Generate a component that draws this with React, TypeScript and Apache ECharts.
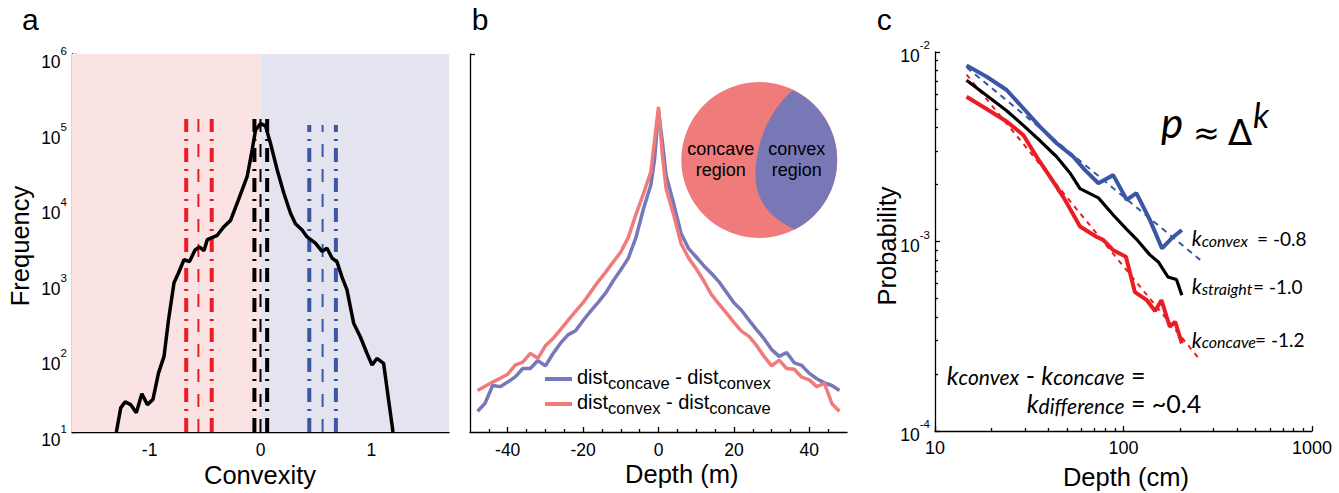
import React, { useEffect, useRef } from "react";
import * as echarts from "echarts";

// ---------- Panel a: convexity histogram ----------
const convexityX = [-1.3, -1.26, -1.22, -1.17, -1.12, -1.07, -1.02, -0.97, -0.92, -0.87, -0.83, -0.78, -0.74, -0.69, -0.64, -0.59, -0.55, -0.51, -0.48, -0.39, -0.33, -0.27, -0.2, -0.12, -0.075, -0.045, 0, 0.045, 0.09, 0.15, 0.21, 0.27, 0.315, 0.375, 0.42, 0.495, 0.555, 0.6, 0.645, 0.69, 0.735, 0.78, 0.81, 0.84, 0.9, 0.96, 1.006, 1.05, 1.11, 1.156, 1.195];
const frequency = [10, 21, 25, 23, 18, 32, 23, 27, 60, 100, 300, 940, 1270, 1900, 1800, 2560, 2800, 2500, 3500, 4000, 5200, 6300, 11700, 24000, 54000, 98000, 120000, 112000, 66000, 29500, 14500, 7900, 5700, 4700, 3800, 3150, 2450, 2700, 2000, 1780, 1120, 760, 455, 275, 182, 110, 77, 94, 81, 26, 10];
const concaveRefLines = [-0.67, -0.56, -0.44];
const straightRefLines = [-0.055, 0, 0.06];
const convexRefLines = [0.44, 0.56, 0.68];
const refLineTops = { concave: 138000, straight: 138000, convex: 115000 };
const convexityTicks = [-1, 0, 1];

// ---------- Panel b: depth distributions ----------
const depthB = [-48, -46, -44, -42, -40, -38, -36, -34, -32, -30, -28, -26, -24, -22, -20, -18, -16, -14, -12, -10, -8, -6, -4, -2, -1, 0, 1, 2, 4, 6, 8, 10, 12, 14, 16, 18, 20, 22, 24, 26, 28, 30, 32, 34, 36, 38, 40, 42, 44, 46, 48];
const concaveMinusConvex = [5.5, 7.6, 12.3, 12.0, 13.2, 14.6, 16.8, 16.8, 18.9, 17.5, 20.7, 23.5, 25.7, 26.8, 29.5, 32.0, 34.3, 36.8, 40.0, 42.9, 46.0, 51.4, 59.0, 65.5, 72.5, 85.0, 77.0, 68.0, 60.5, 52.5, 48.5, 46.3, 44.0, 42.0, 39.8, 37.0, 34.2, 32.2, 29.6, 27.1, 24.7, 21.8, 20.0, 21.0, 18.3, 17.6, 15.5, 14.1, 13.0, 12.3, 11.0];
const convexMinusConcave = [11.0, 12.1, 13.2, 14.2, 15.3, 17.7, 18.5, 20.8, 19.5, 22.8, 24.7, 27.1, 29.5, 31.9, 34.2, 37.0, 39.8, 42.3, 45.0, 47.6, 51.5, 57.5, 63.0, 69.0, 77.5, 86.0, 73.5, 64.5, 57.5, 49.8, 46.0, 43.2, 40.0, 36.4, 33.9, 31.5, 29.0, 26.7, 25.3, 22.9, 20.0, 17.5, 19.0, 16.8, 16.6, 14.5, 13.8, 12.0, 12.9, 7.5, 5.5];
const depthBTicks = [-40, -20, 0, 20, 40];
const depthBMinorTicks = [-45, -35, -30, -25, -15, -10, -5, 5, 10, 15, 25, 30, 35, 45];

// ---------- Panel c: probability vs depth ----------
const depthConvex = [14.7, 18.8, 24, 29.4, 36.1, 44.2, 54.2, 62.5, 73.6, 88.2, 104, 117, 138, 160, 180, 204];
const probConvex = [0.0085, 0.0074, 0.0063, 0.00505, 0.00403, 0.0033, 0.0028, 0.00238, 0.00203, 0.00224, 0.00166, 0.0018, 0.0013, 0.00092, 0.00104, 0.00115];
const depthStraight = [14.7, 18.8, 24, 29.4, 36.1, 44.2, 52, 58.8, 73.6, 88.2, 104, 117, 138, 153, 172, 191, 204];
const probStraight = [0.0071, 0.0059, 0.0049, 0.0041, 0.0034, 0.0028, 0.0023, 0.0019, 0.0017, 0.00138, 0.00116, 0.00103, 0.00085, 0.00078, 0.00065, 0.00063, 0.00052];
const depthConcave = [14.7, 18.8, 24, 29.4, 34.6, 40.7, 47.9, 58.8, 71.8, 78, 88.2, 103, 115, 133, 147, 159, 176, 188, 204];
const probConcave = [0.0058, 0.005, 0.0043, 0.00365, 0.0028, 0.0022, 0.00172, 0.0012, 0.00106, 0.00102, 0.0009, 0.00083, 0.00054, 0.00049, 0.00043, 0.00049, 0.000355, 0.000377, 0.00029];
const fitDepth = [14.7, 255];
const fitConvex = [0.0083, 0.0008];
const fitConcave = [0.0076, 0.000237];
const minorMultipliers = [2, 3, 4, 5, 6, 7, 8, 9];

const SANS = '"Liberation Sans", Arial, Helvetica, sans-serif';
const ITAL = 'Lato, "Open Sans", sans-serif';
const DEJAVU = '"DejaVu Sans", sans-serif';
const BLACK = "#000";
const AX = { color: BLACK, width: 1.3 };
const RED_A = "#ec1c24";
const BLUE_A = "#3a56a5";
const BLUE_B = "#7777bb";
const RED_B = "#f07b7b";
const TICK_FONT = 17.5;

const NAME_BLUE = "dist_concave - dist_convex";
const NAME_RED = "dist_convex - dist_concave";

const CONVEX_PATH = "M793 90 A78 78 0 0 1 795 229.5 C775 220 755.5 205 755.5 175 C756 140 770 110 793 90 Z";

function minorTicks(decadeStarts: number[]) {
  const out: number[] = [];
  decadeStarts.forEach((d) => minorMultipliers.forEach((m) => out.push(d * m)));
  return out;
}

function zip(xs: number[], ys: number[]) {
  return xs.map((x, i) => [x, ys[i]]);
}

const supRich = {
  b: { fontSize: TICK_FONT, fontFamily: SANS, color: BLACK, lineHeight: 26, verticalAlign: "bottom" },
  s: { fontSize: 11.5, fontFamily: SANS, color: BLACK, lineHeight: 11, verticalAlign: "top" },
};
const supFormatter = (v: number) => `{b|10}{s|${Math.round(Math.log10(v))}}`;

function buildOption() {
  const refSeries: any[] = [];
  const groups: [number[], string, number][] = [
    [concaveRefLines, RED_A, refLineTops.concave],
    [straightRefLines, BLACK, refLineTops.straight],
    [convexRefLines, BLUE_A, refLineTops.convex],
  ];
  groups.forEach(([xs, color, top]) => {
    xs.forEach((x, i) => {
      const middle = i === 1;
      refSeries.push({
        type: "line",
        xAxisIndex: 0,
        yAxisIndex: 0,
        symbol: "none",
        silent: true,
        z: 3,
        data: [[x, 10], [x, top]],
        lineStyle: middle
          ? { color, width: 2, type: [13, 12] }
          : { color, width: 4, type: [14, 7, 2, 7] },
      });
    });
  });

  const kRich = {
    k: { fontSize: 21, fontStyle: "italic", fontFamily: ITAL, lineHeight: 21, verticalAlign: "bottom" },
    s: { fontSize: 16, fontStyle: "italic", fontFamily: ITAL, lineHeight: 16, verticalAlign: "bottom" },
  };
  const bigRich = {
    k: { fontSize: 25, fontStyle: "italic", fontFamily: ITAL, lineHeight: 25, verticalAlign: "bottom" },
    s: { fontSize: 21, fontStyle: "italic", fontFamily: ITAL, lineHeight: 21, verticalAlign: "bottom" },
    e: { fontSize: 25, fontFamily: ITAL, lineHeight: 25, verticalAlign: "bottom" },
  };

  const txt = (x: number, y: number, text: string, extra: any = {}, el: any = {}) => ({
    type: "text",
    x,
    y,
    silent: true,
    ...el,
    style: {
      text,
      fill: BLACK,
      fontSize: 22,
      fontFamily: SANS,
      align: "left",
      verticalAlign: "middle",
      ...extra,
    },
  });

  const graphics: any[] = [
    // panel letters
    txt(22, 19.5, "a", { fontSize: 30 }),
    txt(471.7, 19.5, "b", { fontSize: 30 }),
    txt(876.7, 19.5, "c", { fontSize: 30 }),
    // panel a region labels
    txt(165, 91, "concave\nreference regions", { align: "center", lineHeight: 26 }),
    txt(354, 91, "convex\nreference regions", { align: "center", lineHeight: 26 }),
    // axis titles
    txt(20, 246, "Frequency", { align: "center", fontSize: 25.5 }, { rotation: Math.PI / 2 }),
    txt(260, 475, "Convexity", { align: "center", fontSize: 25.5 }),
    txt(681.7, 473.5, "Depth (m)", { align: "center", fontSize: 25.5 }),
    txt(887, 246, "Probability", { align: "center", fontSize: 25.5 }, { rotation: Math.PI / 2 }),
    txt(1126, 476.5, "Depth (cm)", { align: "center", fontSize: 25.5 }),
    // inset circle
    { type: "circle", silent: true, shape: { cx: 759.3, cy: 160, r: 78 }, style: { fill: "#f07b7b" } },
    { type: "convexRegion", silent: true, x: 0, y: 0, style: { fill: "#7878b6" } },
    txt(720.7, 159, "concave\nregion", { align: "center", lineHeight: 21, fontSize: 18 }),
    txt(796.7, 159, "convex\nregion", { align: "center", lineHeight: 21, fontSize: 18 }),
    // panel c formula
    txt(1161, 143, "p", { fontSize: 42, fontStyle: "italic", fontFamily: ITAL, verticalAlign: "bottom" }),
    txt(1206.5, 133, "\u2248", { fontSize: 32, fontFamily: DEJAVU, align: "center" }),
    txt(1240, 132, "\u0394", { fontSize: 36, fontFamily: DEJAVU, align: "center" }),
    txt(1253, 114, "k", { fontSize: 34, fontStyle: "italic", fontFamily: ITAL }),
    // panel c slope labels
    txt(1191.7, 248, "{k|k}{s|convex}", { rich: kRich, verticalAlign: "bottom" }),
    txt(1257, 238, "= -0.8", { fontSize: 19, fontFamily: ITAL }),
    txt(1191.7, 296, "{k|k}{s|straight}", { rich: kRich, verticalAlign: "bottom" }),
    txt(1253, 286, "= -1.0", { fontSize: 19, fontFamily: ITAL }),
    txt(1191.7, 349.5, "{k|k}{s|concave}", { rich: kRich, verticalAlign: "bottom" }),
    txt(1255, 339.5, "= -1.2", { fontSize: 19, fontFamily: ITAL }),
    txt(946.7, 387, "{k|k}{s|convex}{e| - }{k|k}{s|concave}{e| =}", { rich: bigRich, verticalAlign: "bottom" }),
    txt(1026.7, 415.5, "{k|k}{s|difference}{e| = ~0.4}", { rich: bigRich, verticalAlign: "bottom" }),
  ];

  const legendText: Record<string, string> = {
    [NAME_BLUE]: "{d|dist}{s|concave}{d| - dist}{s|convex}",
    [NAME_RED]: "{d|dist}{s|convex}{d| - dist}{s|concave}",
  };

  const tickLabel = { color: BLACK, fontSize: TICK_FONT, fontFamily: SANS };

  return {
    animation: false,
    grid: [
      { left: 72, top: 54, width: 377, height: 378 },
      { left: 470, top: 54, width: 377, height: 378 },
      { left: 935, top: 52, width: 377, height: 379 },
    ],
    legend: {
      data: [NAME_BLUE, NAME_RED],
      orient: "vertical",
      left: 540,
      top: 362,
      itemWidth: 27,
      itemHeight: 4,
      itemGap: 1,
      icon: "rect",
      formatter: (n: string) => legendText[n],
      textStyle: {
        fontSize: 20,
        fontFamily: SANS,
        color: BLACK,
        rich: {
          d: { fontSize: 20, fontFamily: SANS, color: BLACK, lineHeight: 24, verticalAlign: "top" },
          s: { fontSize: 16.5, fontFamily: SANS, color: BLACK, lineHeight: 20, verticalAlign: "bottom" },
        },
      },
    },
    xAxis: [
      {
        gridIndex: 0, type: "value", min: -1.7, max: 1.7,
        axisLine: { onZero: false, lineStyle: AX },
        axisTick: { inside: true, length: 5, customValues: convexityTicks, lineStyle: AX },
        axisLabel: { customValues: convexityTicks, ...tickLabel, margin: 9 },
        splitLine: { show: false },
      },
      {
        gridIndex: 1, type: "value", min: -50, max: 50,
        axisLine: { onZero: false, lineStyle: AX },
        axisTick: { inside: true, length: 5, customValues: depthBTicks, lineStyle: AX },
        axisLabel: { customValues: depthBTicks, ...tickLabel, margin: 9 },
        splitLine: { show: false },
      },
      {
        gridIndex: 1, type: "value", min: -50, max: 50, position: "bottom",
        axisLine: { show: false, onZero: false },
        axisTick: { inside: true, length: 3, customValues: depthBMinorTicks, lineStyle: AX },
        axisLabel: { show: false },
        splitLine: { show: false },
      },
      {
        gridIndex: 2, type: "log", logBase: 10, min: 10, max: 1000,
        axisLine: { onZero: false, lineStyle: AX },
        axisTick: { inside: true, length: 5, lineStyle: AX },
        axisLabel: { ...tickLabel, fontSize: 18, margin: 8, formatter: (v: number) => String(Math.round(v)) },
        splitLine: { show: false },
        minorTick: { show: false },
      },
      {
        gridIndex: 2, type: "log", logBase: 10, min: 10, max: 1000, position: "bottom",
        axisLine: { show: false, onZero: false },
        axisTick: { inside: true, length: 3, customValues: minorTicks([10, 100]), lineStyle: AX },
        axisLabel: { show: false },
        splitLine: { show: false },
      },
    ],
    yAxis: [
      {
        gridIndex: 0, type: "log", logBase: 10, min: 10, max: 1e6, position: "left",
        axisLine: { show: true, onZero: false, lineStyle: AX },
        axisTick: { show: true, inside: true, length: 5, lineStyle: AX },
        axisLabel: { ...tickLabel, formatter: supFormatter, margin: 5, padding: [8, 0, 0, 0], rich: supRich },
        splitLine: { show: false },
      },
      {
        gridIndex: 0, type: "log", logBase: 10, min: 10, max: 1e6, position: "left",
        axisLine: { show: false, onZero: false },
        axisTick: { show: true, inside: true, length: 3, customValues: minorTicks([10, 100, 1000, 10000, 100000]), lineStyle: AX },
        axisLabel: { show: false },
        splitLine: { show: false },
      },
      {
        gridIndex: 1, type: "value", min: 0, max: 100, position: "left",
        axisLine: { show: true, onZero: false, lineStyle: AX },
        axisTick: { show: true, inside: true, length: 5, customValues: [100], lineStyle: AX },
        axisLabel: { show: false },
        splitLine: { show: false },
      },
      {
        gridIndex: 2, type: "log", logBase: 10, min: 1e-4, max: 1e-2, position: "left",
        axisLine: { show: true, onZero: false, lineStyle: AX },
        axisTick: { show: true, inside: true, length: 5, lineStyle: AX },
        axisLabel: { ...tickLabel, formatter: supFormatter, margin: 5, rich: supRich, verticalAlignMaxLabel: "top" },
        splitLine: { show: false },
      },
      {
        gridIndex: 2, type: "log", logBase: 10, min: 1e-4, max: 1e-2, position: "left",
        axisLine: { show: false, onZero: false },
        axisTick: { show: true, inside: true, length: 3, customValues: minorTicks([1e-4, 1e-3]), lineStyle: AX },
        axisLabel: { show: false },
        splitLine: { show: false },
      },
    ],
    series: [
      {
        type: "line", name: "frequency", xAxisIndex: 0, yAxisIndex: 0, symbol: "none", z: 4,
        data: zip(convexityX, frequency),
        lineStyle: { color: BLACK, width: 3.5 },
        markArea: {
          silent: true,
          data: [
            [{ xAxis: -1.7, itemStyle: { color: "#fbe3e3" } }, { xAxis: 0 }],
            [{ xAxis: 0, itemStyle: { color: "#e4e4f1" } }, { xAxis: 1.7 }],
          ],
        },
      },
      ...refSeries,
      {
        type: "line", name: NAME_BLUE, xAxisIndex: 1, yAxisIndex: 2, symbol: "none",
        data: zip(depthB, concaveMinusConvex), color: BLUE_B,
        lineStyle: { color: BLUE_B, width: 3.5 },
      },
      {
        type: "line", name: NAME_RED, xAxisIndex: 1, yAxisIndex: 2, symbol: "none",
        data: zip(depthB, convexMinusConcave), color: RED_B,
        lineStyle: { color: RED_B, width: 3.5 },
      },
      {
        type: "line", name: "convex fit", xAxisIndex: 3, yAxisIndex: 3, symbol: "none", z: 3,
        data: zip(fitDepth, fitConvex), lineStyle: { color: BLUE_A, width: 2, type: [6, 5] },
      },
      {
        type: "line", name: "concave fit", xAxisIndex: 3, yAxisIndex: 3, symbol: "none", z: 3,
        data: zip(fitDepth, fitConcave), lineStyle: { color: RED_A, width: 2, type: [5, 5] },
      },
      {
        type: "line", name: "convex", xAxisIndex: 3, yAxisIndex: 3, symbol: "none",
        data: zip(depthConvex, probConvex), lineStyle: { color: BLUE_A, width: 4 },
      },
      {
        type: "line", name: "straight", xAxisIndex: 3, yAxisIndex: 3, symbol: "none",
        data: zip(depthStraight, probStraight), lineStyle: { color: BLACK, width: 3.2 },
      },
      {
        type: "line", name: "concave", xAxisIndex: 3, yAxisIndex: 3, symbol: "none",
        data: zip(depthConcave, probConcave), lineStyle: { color: RED_A, width: 4 },
      },
    ],
    graphic: { elements: graphics },
  };
}

export default function App() {
  const ref = useRef<HTMLDivElement>(null);
  useEffect(() => {
    if (!ref.current) return;
    document.body.style.margin = "0";
    try {
      echarts.graphic.registerShape("convexRegion", echarts.graphic.extendPath(CONVEX_PATH, {}) as any);
    } catch (e) {
      // already registered
    }
    const chart = echarts.init(ref.current, null, { renderer: "svg" });
    chart.setOption(buildOption() as any);
    return () => chart.dispose();
  }, []);
  return <div ref={ref} style={{ position: "absolute", left: 0, top: 0, width: 1339, height: 493 }} />;
}
